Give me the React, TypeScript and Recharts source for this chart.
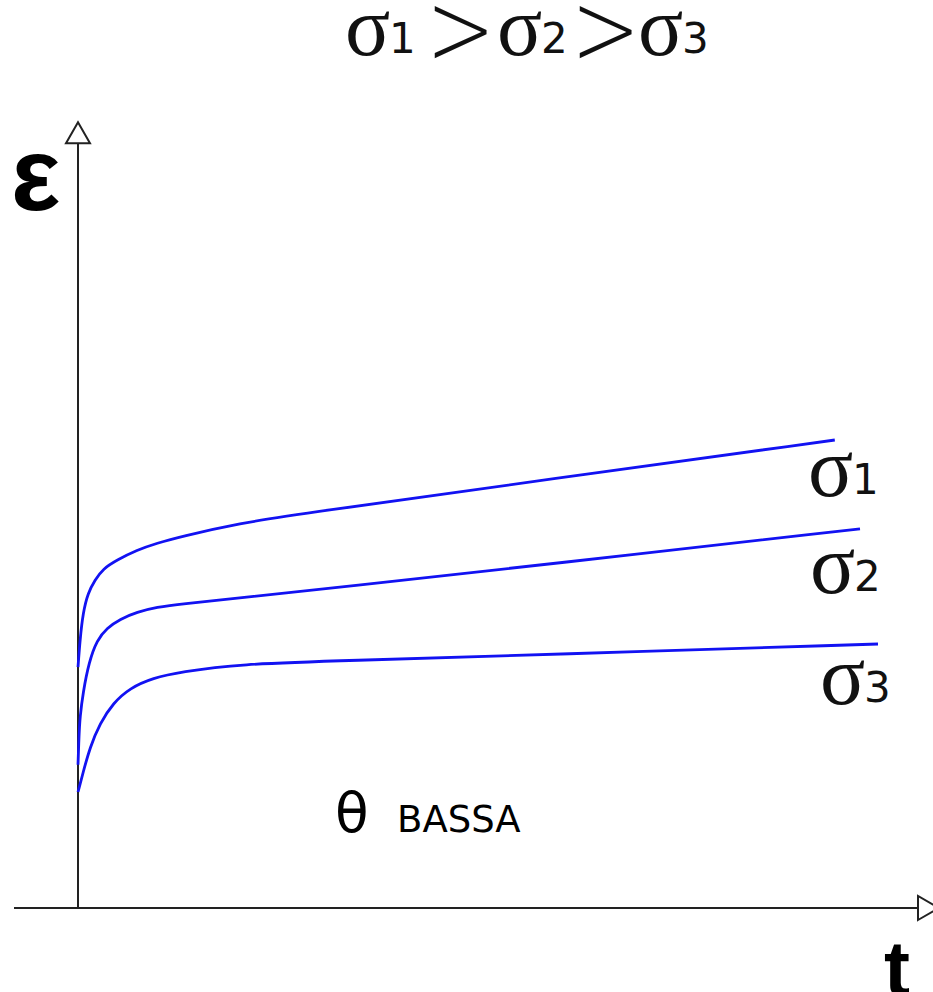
import React from 'react';
import { LineChart, Line, XAxis, YAxis, ReferenceLine } from 'recharts';

// time (t) and strain (ε) samples for each stress level, low temperature
const tSigma1 = [0, 0.25, 0.625, 1.25, 2.125, 3.125, 4.875, 7.375, 9.875, 12.75, 20.25, 27.75, 59, 94.6];
const eSigma1 = [30.1, 33.5, 36.9, 39.4, 41, 42.4, 43.5, 44.75, 45.6, 46.4, 48.1, 49.25, 53.6, 58.5];

const tSigma2 = [0, 0.125, 0.25, 0.625, 1.375, 2.375, 3.625, 5.25, 7.375, 9.875, 12.75, 20.25, 32.75, 59, 97.75];
const eSigma2 = [17.9, 21.6, 23.9, 26.9, 30.75, 33.5, 35, 36.1, 37, 37.6, 38, 38.75, 40.1, 43, 47.4];

const tSigma3 = [0, 0.625, 1.5, 2.75, 4.375, 6.5, 9.375, 12.75, 20.25, 32.75, 59, 100];
const eSigma3 = [14.5, 16.9, 20.1, 23.1, 25.6, 27.5, 28.75, 29.5, 30.5, 30.9, 31.7, 33];

const toPoints = (t: number[], e: number[]) => t.map((v, i) => ({ t: v, e: e[i] }));

const series = [
  { name: 'σ1', data: toPoints(tSigma1, eSigma1) },
  { name: 'σ2', data: toPoints(tSigma2, eSigma2) },
  { name: 'σ3', data: toPoints(tSigma3, eSigma3) },
];

const T_DOMAIN: [number, number] = [-8, 105];
const E_DOMAIN: [number, number] = [0, 101];

const W = 933;
const H = 992;
const AXIS_COLOR = '#222';
const CURVE_COLOR = '#1212f2';
const SERIF = '"Liberation Serif", "DejaVu Serif", serif';
const SANS = '"DejaVu Sans", sans-serif';

// axis line that ends in an open triangular arrow head
const ArrowLine = (props: any) => {
  const { x1, y1, x2, y2 } = props;
  const dx = x2 - x1;
  const dy = y2 - y1;
  const len = Math.hypot(dx, dy) || 1;
  const ux = dx / len;
  const uy = dy / len;
  const head = 21;
  const half = 12;
  const tipX = x2 + ux * head;
  const tipY = y2 + uy * head;
  const pts = [
    `${x2 - uy * half},${y2 + ux * half}`,
    `${tipX},${tipY}`,
    `${x2 + uy * half},${y2 - ux * half}`,
  ].join(' ');
  return (
    <g>
      <line x1={x1} y1={y1} x2={x2} y2={y2} stroke={AXIS_COLOR} strokeWidth={2} />
      <polygon points={pts} fill="#fff" stroke={AXIS_COLOR} strokeWidth={2} strokeLinejoin="miter" />
    </g>
  );
};

const SigmaLabel = ({ x, y, n }: { x: number; y: number; n: string }) => (
  <text y={y} fill="#111">
    <tspan x={x} fontFamily={SERIF} fontSize={84}>σ</tspan>
    <tspan x={x + 44} y={y - 2} fontFamily={SANS} fontSize={42}>{n}</tspan>
  </text>
);

// thin, tall "greater than" sign
const Gt = ({ x, y }: { x: number; y: number }) => (
  <text
    transform={`translate(${x},${y}) scale(0.78,1)`}
    fontFamily={SANS}
    fontWeight={200}
    fontSize={106}
    fill="#111"
  >
    &gt;
  </text>
);

export default function App() {
  return (
    <div style={{ position: 'absolute', left: 0, top: 0, background: '#fff' }}>
      <LineChart width={W} height={H} margin={{ top: 100, right: 15, bottom: 84, left: 14 }}>
        <XAxis type="number" dataKey="t" domain={T_DOMAIN} hide allowDataOverflow />
        <YAxis type="number" dataKey="e" domain={E_DOMAIN} hide allowDataOverflow />

        <ReferenceLine
          segment={[{ x: -8, y: 0 }, { x: 105, y: 0 }]}
          shape={ArrowLine}
          ifOverflow="visible"
        />
        <ReferenceLine
          segment={[{ x: 0, y: 0 }, { x: 0, y: 95.6 }]}
          shape={ArrowLine}
          ifOverflow="visible"
        />

        {series.map((s) => (
          <Line
            key={s.name}
            data={s.data}
            dataKey="e"
            type="basis"
            stroke={CURVE_COLOR}
            strokeWidth={2.8}
            dot={false}
            activeDot={false}
            isAnimationActive={false}
          />
        ))}

        {/* title: σ1 > σ2 > σ3 */}
        <SigmaLabel x={345} y={55} n="1" />
        <Gt x={426} y={65} />
        <SigmaLabel x={497} y={55} n="2" />
        <Gt x={571} y={65} />
        <SigmaLabel x={638} y={55} n="3" />

        {/* curve labels */}
        <SigmaLabel x={808} y={496} n="1" />
        <SigmaLabel x={810} y={593} n="2" />
        <SigmaLabel x={820} y={704} n="3" />

        {/* axis names */}
        <text x={11} y={210} fontFamily='"Liberation Sans", sans-serif' fontWeight={700} fontSize={104} fill="#000">ε</text>
        <text x={884} y={995} fontFamily='"Liberation Sans", sans-serif' fontWeight={700} fontSize={78} fill="#000">t</text>

        <text y={832} fill="#000" fontFamily={SANS}>
          <tspan x={335} fontSize={55}>θ</tspan>
          <tspan x={397} fontSize={37}>BASSA</tspan>
        </text>
      </LineChart>
    </div>
  );
}
